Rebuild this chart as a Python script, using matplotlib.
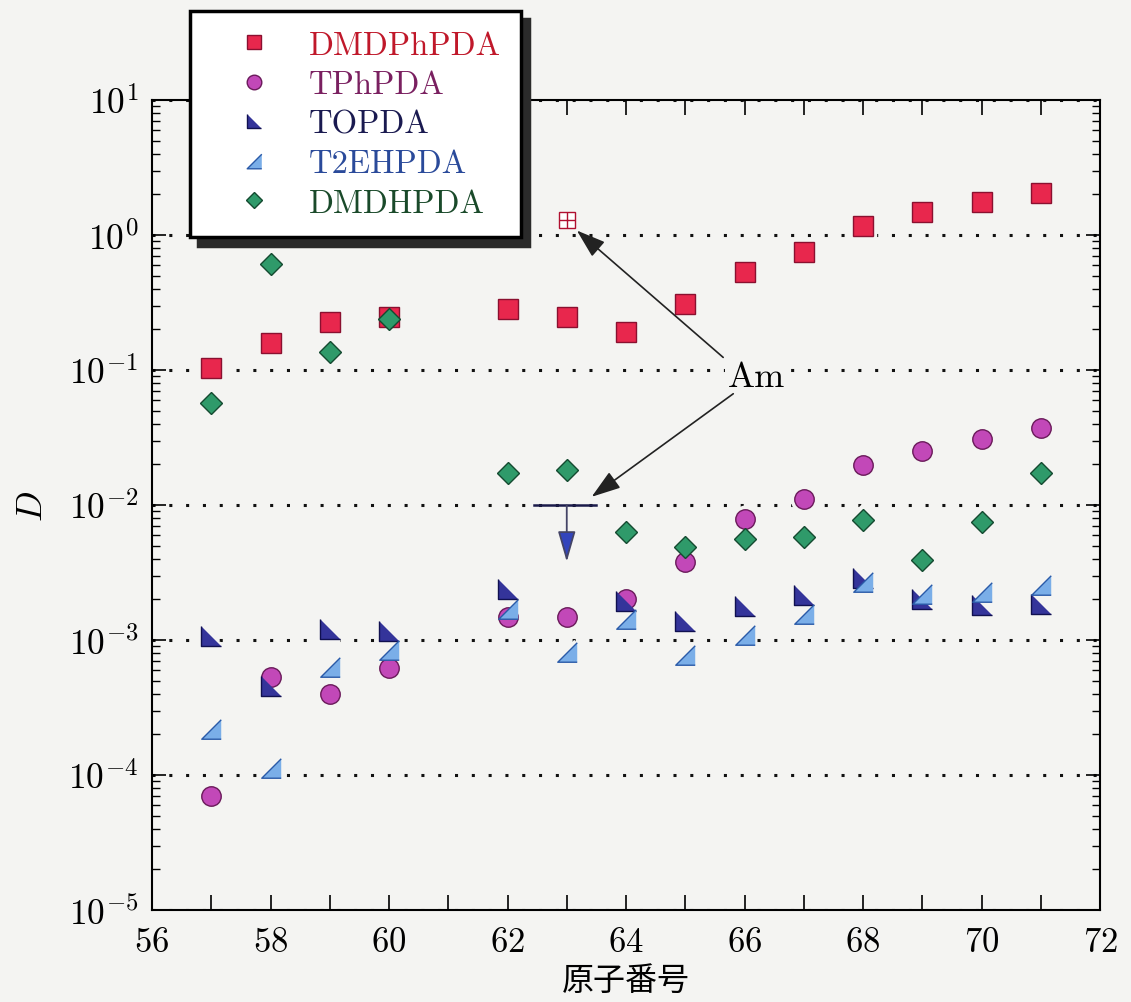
import matplotlib.pyplot as plt

plt.rcParams['font.family'] = ['cmr10', 'DejaVu Serif']
plt.rcParams['mathtext.fontset'] = 'cm'
plt.rcParams['axes.formatter.use_mathtext'] = True

bg = '#f4f4f2'

# atomic numbers (Pm = 61 not measured)
z_all = [57, 58, 59, 60, 62, 63, 64, 65, 66, 67, 68, 69, 70, 71]
z_topda = [57, 58, 59, 60, 62, 64, 65, 66, 67, 68, 69, 70, 71]

dmdphpda = [0.103, 0.159, 0.227, 0.246, 0.284, 0.246, 0.19, 0.31, 0.53,
            0.754, 1.17, 1.47, 1.76, 2.05]
tphpda = [7.0e-5, 5.3e-4, 4.0e-4, 6.2e-4, 1.47e-3, 1.48e-3, 2.0e-3, 3.8e-3,
          7.9e-3, 1.11e-2, 1.97e-2, 2.5e-2, 3.1e-2, 3.7e-2]
topda = [1.07e-3, 4.6e-4, 1.2e-3, 1.17e-3, 2.4e-3, 1.95e-3, 1.38e-3, 1.8e-3,
         2.17e-3, 2.9e-3, 2.03e-3, 1.83e-3, 1.86e-3]
t2ehpda = [2.2e-4, 1.12e-4, 6.3e-4, 8.5e-4, 1.7e-3, 8.1e-4, 1.43e-3, 7.8e-4,
           1.09e-3, 1.55e-3, 2.7e-3, 2.2e-3, 2.27e-3, 2.55e-3]
dmdhpda = [0.057, 0.61, 0.137, 0.237, 0.0172, 0.0182, 0.0063, 0.0049, 0.0056,
           0.0058, 0.0078, 0.0039, 0.0075, 0.0174]

# Am (Z plotted at 63)
am_z = 63
am_dmdphpda = 1.29
am_topda_limit = 0.01

tri_topda = [(-1, 1), (-1, -1), (1, -1)]
tri_t2eh = [(1, 1), (-1, -1), (1, -1)]

series = [
    ('DMDPhPDA', z_all, dmdphpda, 's', 14, '#e8274d', '#8a1030', '#c0182a'),
    ('TPhPDA', z_all, tphpda, 'o', 14, '#c248b8', '#6a1a5a', '#7a2060'),
    ('TOPDA', z_topda, topda, tri_topda, 14, '#34349a', '#101050', '#1a1a50'),
    ('T2EHPDA', z_all, t2ehpda, tri_t2eh, 14, '#7aaee8', '#2a5aa8', '#2a4a9a'),
    ('DMDHPDA', z_all, dmdhpda, 'D', 11, '#2f9a6a', '#144a30', '#1a4a2a'),
]

fig = plt.figure(figsize=(11.31, 10.03), dpi=100, facecolor=bg)
ax = fig.add_axes([0.1344, 0.0917, 0.8382, 0.8076], facecolor=bg)

# white halos under the markers
for name, x, y, m, ms, fc, ec, tc in series:
    ax.plot(x, y, ls='none', marker=m, ms=ms, mfc=bg, mec=bg, mew=6, zorder=2)
ax.plot([am_z], [am_dmdphpda], ls='none', marker='s', ms=12, mfc=bg, mec=bg, mew=6, zorder=2)

for name, x, y, m, ms, fc, ec, tc in series:
    ax.plot(x, y, ls='none', marker=m, ms=ms, mfc=fc, mec=ec, mew=1, label=name, zorder=3)

# Am in DMDPhPDA: open square with cross
ax.plot([am_z], [am_dmdphpda], ls='none', marker='s', ms=12, mfc='white', mec='#b01030', mew=1, zorder=3)
ax.plot([am_z], [am_dmdphpda], ls='none', marker='+', ms=12, mec='#b01030', mew=1, zorder=4)

# Am upper limit for TOPDA
ax.plot([62.45, 63.5], [am_topda_limit, am_topda_limit], color='#1a1a4a', lw=1.8, zorder=4)
ax.annotate('', xy=(am_z, 0.0038), xytext=(am_z, am_topda_limit),
            arrowprops=dict(arrowstyle='-|>,head_length=1.9,head_width=0.55',
                            fc='#3344bb', ec='#444466', lw=1.3, shrinkA=0, shrinkB=0),
            zorder=4)

ax.text(66.21, 0.089, 'Am', fontsize=26, ha='center', va='center', zorder=5,
        bbox=dict(fc=bg, ec='none', pad=2))
arrow_kw = dict(arrowstyle='-|>,head_length=1.8,head_width=0.6', fc='#222222',
                ec='#222222', lw=1.2, shrinkA=0, shrinkB=0)
ax.annotate('', xy=(63.17, 1.08), xytext=(65.64, 0.124), arrowprops=arrow_kw, zorder=5)
ax.annotate('', xy=(63.42, 0.0115), xytext=(65.81, 0.0667), arrowprops=arrow_kw, zorder=5)

ax.set_yscale('log')
ax.set_xlim(56, 72)
ax.set_ylim(1e-5, 1e1)
ax.set_xticks(range(56, 73, 2))
ax.set_xticks(range(57, 72, 2), minor=True)
ax.tick_params(axis='x', which='both', direction='in', length=11, width=1.2,
               top=True, bottom=True, labelsize=25, pad=12)
ax.tick_params(axis='y', which='major', direction='in', length=10, width=1.2,
               left=True, right=True, labelsize=25.5, pad=10)
ax.tick_params(axis='y', which='minor', direction='in', length=6, width=1.0,
               left=True, right=True)
for s in ax.spines.values():
    s.set_linewidth(1.5)

ax.yaxis.grid(True, which='major', color='#111111', ls=(0, (1, 4.5)), lw=2.2)
ax.set_axisbelow(True)

ax.set_ylabel('$D$', fontsize=26, labelpad=14)
ax.set_xlabel('原子番号', fontsize=23, family=['Noto Sans CJK JP'], labelpad=4)

leg = ax.legend(loc='upper left', bbox_to_anchor=(0.168, 0.988),
                bbox_transform=fig.transFigure, borderaxespad=0, fontsize=23.5,
                frameon=True, fancybox=False, markerscale=0.75, handlelength=2.7,
                handletextpad=0.34, labelspacing=0.32, borderpad=0.6,
                shadow={'ox': 6, 'oy': -6, 'color': '#2a2a2a', 'alpha': 1})
leg.get_frame().set_edgecolor('black')
leg.get_frame().set_linewidth(2.5)
leg.get_frame().set_facecolor('white')
leg.set_zorder(10)
for t, s in zip(leg.get_texts(), series):
    t.set_color(s[7])

fig.savefig('out.png', dpi=100, facecolor=bg)
